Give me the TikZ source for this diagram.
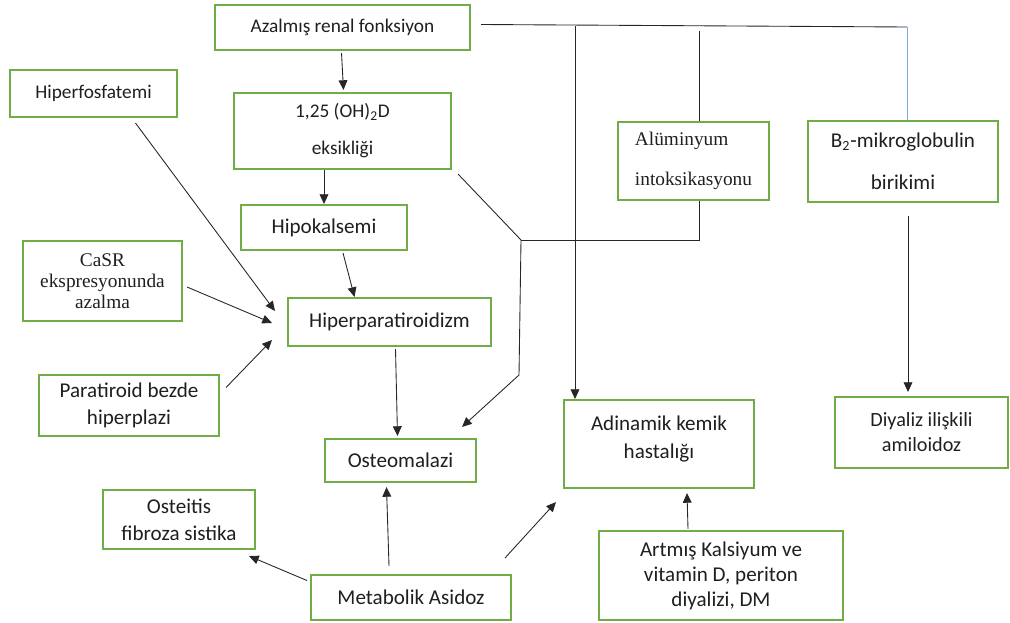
\documentclass[tikz,border=0pt]{standalone}
\usepackage{fontspec}
\setmainfont{Carlito}
\newfontfamily\timesfont{Liberation Serif}
\usetikzlibrary{arrows.meta,calc}
\definecolor{boxgreen}{HTML}{70AD47}
\definecolor{linkblue}{HTML}{7FAFDF}

\begin{document}
\begin{tikzpicture}[x=0.02cm, y=-0.02cm, >={Triangle[length=5.5pt,width=5pt]},
  box/.style={draw=boxgreen, line width=1.2pt, align=center, inner sep=0pt,
    text=black!88, font=\fontsize{12}{15}\selectfont},
  link/.style={draw=black!85, line width=0.5pt}]
  \useasboundingbox (0,0) rectangle (1010,622);

  % boxes
  \node[box, minimum width=5.1cm, minimum height=0.9cm, font=\fontsize{11}{13}\selectfont] (renal) at (342.5,27.5) {Azalmış renal fonksiyon};
  \node[box, minimum width=3.34cm, minimum height=0.94cm, font=\fontsize{11}{13}\selectfont] (hiperfos) at (93.5,93.5) {Hiperfosfatemi};
  \node[box, minimum width=4.34cm, minimum height=1.52cm, font=\fontsize{11}{21}\selectfont] (vitd) at (342.5,131) {1,25 (OH)\textsubscript{2}D\\eksikliği};
  \node[box, minimum width=3.02cm, minimum height=1.56cm, align=left, font=\timesfont\fontsize{11}{22.7}\selectfont] (alum) at (693.5,161) {Alüminyum\\intoksikasyonu};
  \node[box, minimum width=3.8cm, minimum height=1.62cm, font=\fontsize{12}{24}\selectfont] (b2) at (903,161.5) {B\textsubscript{2}-mikroglobulin\\birikimi};
  \node[box, minimum width=3.32cm, minimum height=0.9cm] (hipokal) at (324,227.5) {Hipokalsemi};
  \node[box, minimum width=3.18cm, minimum height=1.6cm, font=\timesfont\fontsize{11}{12}\selectfont] (casr) at (102.5,281) {CaSR\\ekspresyonunda\\azalma};
  \node[box, minimum width=4.06cm, minimum height=0.96cm] (hiperpara) at (389.5,322) {Hiperparatiroidizm};
  \node[box, minimum width=3.6cm, minimum height=1.22cm, font=\fontsize{12}{15.3}\selectfont] (paratir) at (129,405.5) {Paratiroid bezde\\hiperplazi};
  \node[box, minimum width=3.02cm, minimum height=0.86cm] (osteomal) at (400.5,460.5) {Osteomalazi};
  \node[box, minimum width=3.04cm, minimum height=1.18cm, font=\fontsize{12}{15.3}\selectfont] (osteitis) at (179,519.5) {Osteitis\\fibroza sistika};
  \node[box, minimum width=4.0cm, minimum height=0.9cm] (metab) at (411,597.5) {Metabolik Asidoz};
  \node[box, minimum width=3.8cm, minimum height=1.76cm, font=\fontsize{12}{15.6}\selectfont] (adinam) at (659,444) {Adinamik kemik\\hastalığı\\[-8pt]};
  \node[box, minimum width=3.46cm, minimum height=1.42cm, font=\fontsize{11.5}{14.2}\selectfont] (diyaliz) at (921.5,432.5) {Diyaliz ilişkili\\amiloidoz};
  \node[box, minimum width=4.88cm, minimum height=1.78cm, font=\fontsize{12}{14.2}\selectfont] (artmis) at (721,575.5) {Artmış Kalsiyum ve\\vitamin D, periton\\diyalizi, DM};

  % line from renal function across the top
  \coordinate (topleft) at ($(renal.east)+(10,-3)$);
  \coordinate (adtop) at (575,26);
  \coordinate (altop) at (699,31);
  \coordinate (b2top) at (907,27);
  \draw[link] (topleft) -- (b2top);
  \draw[draw=linkblue, line width=0.5pt] (b2top) -- (b2top |- b2.north);
  \draw[link] (altop) -- (altop |- alum.north);
  \draw[link,->] (adtop) -- (adtop |- adinam.north);

  % vitamin D and aluminium to osteomalacia
  \coordinate (aljoin) at (521,240);
  \coordinate (aldown) at (519,375);
  \draw[link] ($(vitd.south east)+(6,4)$) -- (aljoin) -- (aldown);
  \draw[link] (alum.south -| altop) |- (aljoin);
  \draw[link,->] (aldown) -- ($(osteomal.north east)+(-15,-11)$);

  % arrows
  \draw[link,->] ($(renal.south)+(-1,2)$) -- ($(vitd.north)+(1,-2)$);
  \draw[link,->] (vitd.south -| hipokal.north) -- (hipokal.north);
  \draw[link,->] ($(hipokal.south)+(19,2)$) -- ($(hiperpara.north)+(-35,0)$);
  \draw[link,->] ($(hiperfos.south)+(42,5)$) -- ($(hiperpara.west)+(-12,-11)$);
  \draw[link,->] ($(casr.east)+(4,6)$) -- ($(hiperpara.west)+(-15,1)$);
  \draw[link,->] ($(paratir.east)+(6,-18)$) -- ($(hiperpara.west)+(-15,18)$);
  \draw[link,->] ($(hiperpara.south)+(6,2)$) -- ($(osteomal.north)+(-3,-2)$);
  \draw[link,->] ($(b2.south)+(5,13)$) coordinate (b2out) -- ($(b2out |- diyaliz.north)+(0,-4)$);
  \draw[link,->] ($(metab.west)+(-3,-17)$) -- ($(osteitis.south east)+(-7,6)$);
  \draw[link,->] ($(metab.north)+(-22,-8)$) -- ($(osteomal.south)+(-14,4)$);
  \draw[link,->] ($(metab.north east)+(-7,-16)$) -- ($(adinam.south west)+(-7,13)$);
  \draw[link,->] ($(artmis.north)+(-33,-1)$) -- ($(adinam.south)+(28,4)$);
\end{tikzpicture}
\end{document}
